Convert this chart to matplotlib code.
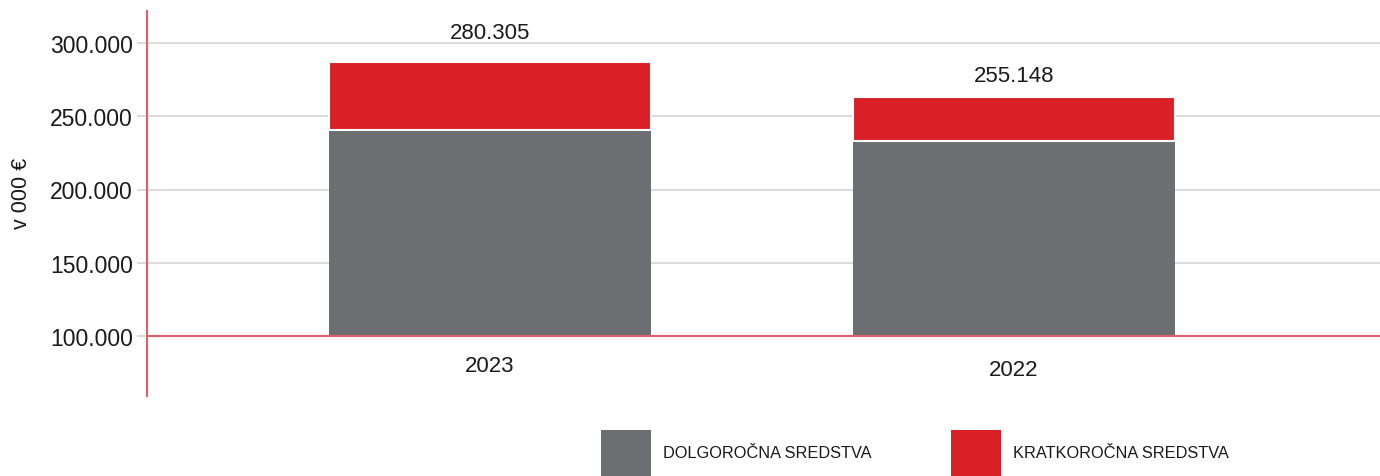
import matplotlib
matplotlib.use("Agg")
import matplotlib.pyplot as plt
from matplotlib.patches import Rectangle

# ---- data ----
years = ["2023", "2022"]
long_term = [240800, 233000]      # DOLGOROČNA SREDSTVA
short_term = [46400, 30100]       # KRATKOROČNA SREDSTVA
total_labels = ["280.305", "255.148"]
y_ticks = [100000, 150000, 200000, 250000, 300000]
y_tick_labels = ["100.000", "150.000", "200.000", "250.000", "300.000"]
series_names = ["DOLGOROČNA SREDSTVA", "KRATKOROČNA SREDSTVA"]

# ---- style ----
GRAY = "#6d6e71"
RED = "#d92027"
AXRED = "#e06068"
GRID = "#d9d9d9"
TXT = "#1a1a1a"
BASE = 100000

W, H = 1380, 477
fig = plt.figure(figsize=(W / 100, H / 100), dpi=100)
ax = fig.add_axes([147 / W, 1 - 397 / H, 1233 / W, 385 / H])

ppk = (337 - 44) / 200.0  # pixels per 1000
ax.set_ylim(BASE - 60 / ppk * 1000, BASE + 325 / ppk * 1000)
ax.set_xlim((147 - 490) / 524, (1380 - 490) / 524)

x = list(range(len(years)))
bw = 322 / 524
lt_h = [v - BASE for v in long_term]
b1 = ax.bar(x, lt_h, bottom=BASE, width=bw, color=GRAY, zorder=2, linewidth=0)
b2 = ax.bar(x, short_term, bottom=long_term, width=bw, color=RED, zorder=2,
            edgecolor="white", linewidth=1.5)

# gridlines
for t in y_ticks[1:]:
    ax.axhline(t, color=GRID, lw=1.3, zorder=1)
ax.axhline(BASE, color=AXRED, lw=1.5, zorder=3)

ax.set_yticks(y_ticks)
ax.set_yticklabels(y_tick_labels, fontsize=16.5, color=TXT, family="Liberation Sans")
ax.tick_params(axis="y", length=7.2, width=1.3, color=GRID, pad=3)
ax.yaxis.get_major_ticks()[0].tick1line.set_color(AXRED)
ax.set_xticks([])

for s in ["top", "right", "bottom"]:
    ax.spines[s].set_visible(False)
ax.spines["left"].set_color(AXRED)
ax.spines["left"].set_linewidth(1.5)

ax.set_ylabel("v 000 €", fontsize=15.5, color=TXT, family="Liberation Sans")
ax.yaxis.set_label_coords(-115 / 1233, (397 - 193) / 385)

# totals above bars
label_offsets = [21.2, 15.8]
for xi, lt, st, lab, off in zip(x, long_term, short_term, total_labels, label_offsets):
    ax.annotate(lab, (xi, lt + st), xytext=(0, off), textcoords="offset points",
                ha="center", va="center", fontsize=16, color=TXT,
                family="Liberation Sans")

# category labels
cat_offsets = [21.6, 24.1]
for xi, yr, off in zip(x, years, cat_offsets):
    ax.annotate(yr, (xi, BASE), xytext=(0, -off), textcoords="offset points",
                ha="center", va="center", fontsize=16, color=TXT,
                family="Liberation Sans", annotation_clip=False)

# legend
leg_colors = [b1.patches[0].get_facecolor(), b2.patches[0].get_facecolor()]
leg_x = [601, 951]
for lx, col, name in zip(leg_x, leg_colors, series_names):
    fig.patches.append(Rectangle((lx / W, 0), 50 / W, 46 / H,
                                 transform=fig.transFigure, facecolor=col,
                                 edgecolor="none"))
    fig.text((lx + 62) / W, 1 - 454 / H, name, fontsize=11.8, color=TXT,
             family="Liberation Sans", ha="left", va="center")

fig.savefig("out.png", dpi=100)
